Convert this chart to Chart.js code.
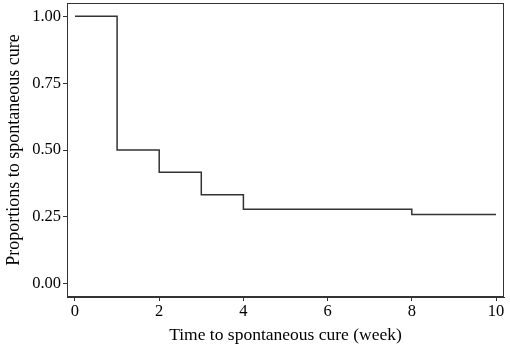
<!DOCTYPE html>
<html lang="en">
<head>
  <meta charset="UTF-8">
  <title>Time to spontaneous cure</title>
  <script src="https://cdn.jsdelivr.net/npm/chart.js"></script>
  <style>
    body { margin: 0; background: #fff; }
    #wrap { width: 510px; height: 346px; }
  </style>
</head>
<body>
  <div id="wrap"><canvas id="kmChart"></canvas></div>
  <script>
    // survival steps
    const weeks = [0, 1, 2, 3, 4, 8, 10];
    const proportion = [1.0, 0.5, 0.417, 0.333, 0.278, 0.259, 0.259];
    const xTicks = [0, 2, 4, 6, 8, 10];
    const yTicks = [0, 0.25, 0.5, 0.75, 1.0];

    const serif = 'Liberation Serif';
    const ink = '#333';

    // box round the plot area
    const frame = {
      id: 'frame',
      afterDraw(chart) {
        const a = chart.chartArea, ctx = chart.ctx;
        ctx.save();
        ctx.strokeStyle = ink;
        ctx.lineWidth = 1;
        ctx.strokeRect(a.left + 0.5, a.top + 0.5, a.right - a.left - 1, a.bottom - a.top - 1);
        ctx.restore();
      }
    };

    new Chart(document.getElementById('kmChart'), {
      type: 'line',
      data: {
        datasets: [{
          data: weeks.map((w, i) => ({ x: w, y: proportion[i] })),
          stepped: true,
          borderColor: ink,
          borderWidth: 1.5,
          pointRadius: 0,
          fill: false
        }]
      },
      options: {
        responsive: true,
        maintainAspectRatio: false,
        animation: false,
        layout: { padding: { top: 3, right: 6, left: 0, bottom: 0 } },
        plugins: { legend: { display: false }, tooltip: { enabled: false } },
        scales: {
          x: {
            type: 'linear',
            min: -0.19, max: 10.19,
            afterBuildTicks: s => { s.ticks = xTicks.map(v => ({ value: v })); },
            afterFit: s => { s.height = 49; s.paddingLeft = 0; s.paddingRight = 0; },
            grid: { drawOnChartArea: false, drawTicks: true, tickLength: 4, color: ink },
            border: { display: true, color: ink },
            ticks: { color: '#000', padding: 1, maxRotation: 0, font: { family: serif, size: 16.5 } },
            title: { display: true, text: 'Time to spontaneous cure (week)', color: '#000', padding: { top: 1, bottom: 0 }, font: { family: serif, size: 17.5 } }
          },
          y: {
            min: -0.05, max: 1.05,
            afterBuildTicks: s => { s.ticks = yTicks.map(v => ({ value: v })); },
            afterFit: s => { s.width = 67; s.paddingTop = 0; s.paddingBottom = 0; },
            grid: { drawOnChartArea: false, drawTicks: true, tickLength: 4, color: ink },
            border: { display: true, color: ink },
            ticks: { color: '#000', padding: 2, font: { family: serif, size: 16.5 }, callback: v => v.toFixed(2) },
            title: { display: true, text: 'Proportions to spontaneous cure', color: '#000', padding: { top: 3, bottom: 0 }, font: { family: serif, size: 18 } }
          }
        }
      },
      plugins: [frame]
    });
  </script>
</body>
</html>
